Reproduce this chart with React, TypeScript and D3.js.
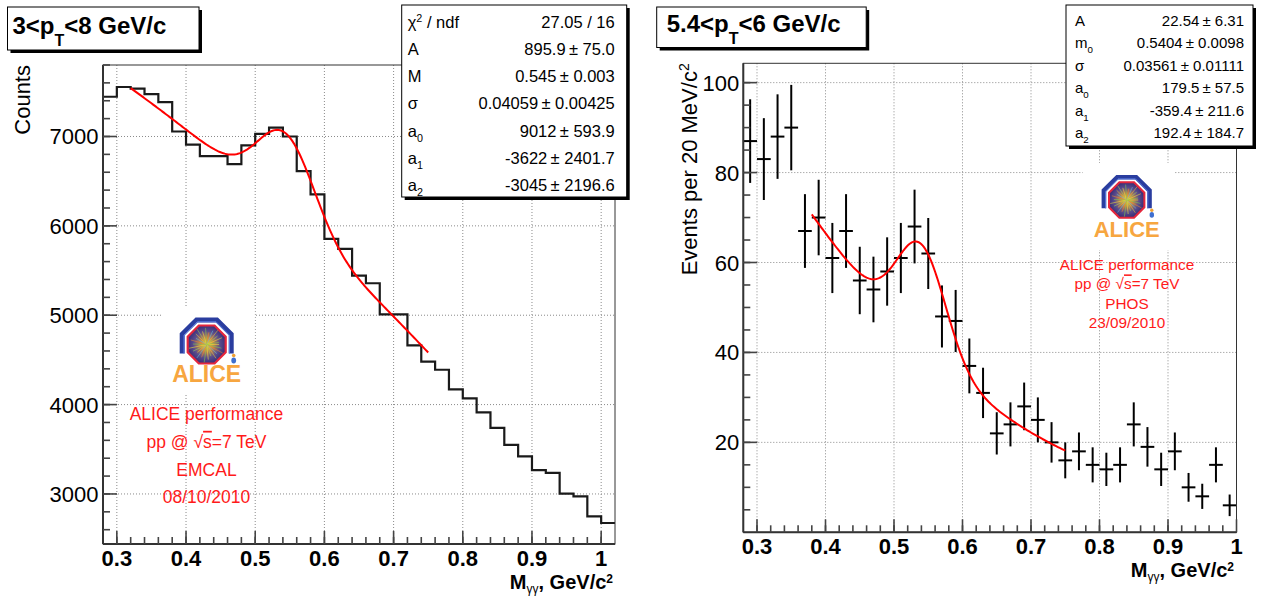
import React, { useEffect } from "react";
import * as d3 from "d3";

const FONT = "'Liberation Sans', Arial, Helvetica, sans-serif";

// ---------------- Left panel (EMCAL) data ----------------
const emcalBinStart = 0.28;
const emcalBinWidth = 0.02;
const emcalCounts = [
  7445, 7554, 7535, 7475, 7385, 7056, 6910, 6780, 6780, 6690,
  6900, 7030, 7100, 7000, 6612, 6352, 5854, 5742, 5444, 5358,
  5010, 5010, 4663, 4480, 4390, 4170, 4070, 3914, 3740, 3550,
  3420, 3266, 3236, 3004, 2974, 2750, 2675,
];
// fit parameters: A, M, sigma, a0, a1, a2 (gaus + pol2)
const emcalFitParams = [895.9, 0.545, 0.04059, 9012, -3622, -3045];
const emcalFitRange = [0.32, 0.75];
const emcalXTicks = [0.3, 0.4, 0.5, 0.6, 0.7, 0.8, 0.9, 1.0];
const emcalXTickLabels = ["0.3", "0.4", "0.5", "0.6", "0.7", "0.8", "0.9", "1"];
const emcalYTicks = [3000, 4000, 5000, 6000, 7000];
const emcalStatLabels = ["chi", "A", "M", "σ", "a0", "a1", "a2"];
const emcalStatValues = [
  "27.05 / 16",
  "895.9\u2009± 75.0",
  "0.545\u2009± 0.003",
  "0.04059\u2009± 0.00425",
  "9012\u2009± 593.9",
  "-3622\u2009± 2401.7",
  "-3045\u2009± 2196.6",
];
const emcalNotes = ["ALICE performance", "SQRT", "EMCAL", "08/10/2010"];

// ---------------- Right panel (PHOS) data ----------------
const phosBinStart = 0.28;
const phosBinWidth = 0.02;
const phosCounts = [
  87, 83, 88, 90, 67, 70, 61, 67, 56, 54,
  58, 61, 68, 62, 48, 47, 37, 31, 22, 24,
  28, 25, 20, 16, 18, 15, 14, 15, 24, 19,
  14, 18, 10, 8, 15, 6,
];
const phosErrors = [
  9.3, 9.1, 9.4, 9.5, 8.2, 8.4, 7.8, 8.2, 7.5, 7.3,
  7.6, 7.8, 8.2, 7.9, 6.9, 6.9, 6.1, 5.6, 4.7, 4.9,
  5.3, 5.0, 4.5, 4.0, 4.2, 3.9, 3.7, 3.9, 4.9, 4.4,
  3.7, 4.2, 3.2, 2.8, 3.9, 2.4,
];
const phosFitParams = [22.54, 0.5404, 0.03561, 179.5, -359.4, 192.4];
const phosFitRange = [0.38, 0.75];
const phosXTicks = [0.3, 0.4, 0.5, 0.6, 0.7, 0.8, 0.9, 1.0];
const phosXTickLabels = ["0.3", "0.4", "0.5", "0.6", "0.7", "0.8", "0.9", "1"];
const phosYTicks = [20, 40, 60, 80, 100];
const phosStatLabels = ["A", "m0", "σ", "a0", "a1", "a2"];
const phosStatValues = [
  "22.54\u2009± 6.31",
  "0.5404\u2009± 0.0098",
  "0.03561\u2009± 0.01111",
  "179.5\u2009± 57.5",
  "-359.4\u2009± 211.6",
  "192.4\u2009± 184.7",
];
const phosNotes = ["ALICE performance", "SQRT", "PHOS", "23/09/2010"];

// ---------------- helpers ----------------
function gausPol2(p: number[], x: number) {
  const [A, M, s, a0, a1, a2] = p;
  return A * Math.exp(-0.5 * ((x - M) / s) ** 2) + a0 + a1 * x + a2 * x * x;
}

function StatLabel({ label, size }: { label: string; size: number }) {
  if (label === "chi")
    return (
      <>
        <tspan>χ</tspan>
        <tspan dy={-6} fontSize={size * 0.65}>2</tspan>
        <tspan dy={6}> / ndf</tspan>
      </>
    );
  if (label.length === 2 && /[0-9]/.test(label[1]))
    return (
      <>
        <tspan>{label[0]}</tspan>
        <tspan dy={5} fontSize={size * 0.65}>{label[1]}</tspan>
      </>
    );
  return <tspan>{label}</tspan>;
}

function StatsBox({ x, y, w, h, labels, values, base, pitch, size, labelPad, valuePad }: any) {
  return (
    <g>
      <rect x={x + 3} y={y + 3} width={w} height={h} fill="#000" />
      <rect x={x} y={y} width={w} height={h} fill="#fff" stroke="#000" strokeWidth={1} />
      {labels.map((l: string, i: number) => (
        <text key={"l" + i} x={x + labelPad} y={y + base + i * pitch} fontSize={size} fill="#000">
          <StatLabel label={l} size={size} />
        </text>
      ))}
      {values.map((v: string, i: number) => (
        <text key={"v" + i} x={x + w - valuePad} y={y + base + i * pitch} fontSize={size} textAnchor="end" fill="#000">
          {v}
        </text>
      ))}
    </g>
  );
}

function TitleBox({ x, y, w, h, pre, post, tx, ty }: any) {
  return (
    <g>
      <rect x={x + 3} y={y + 3} width={w} height={h} fill="#000" />
      <rect x={x} y={y} width={w} height={h} fill="#fff" stroke="#000" strokeWidth={1} />
      <text x={tx} y={ty} fontSize={24} fontWeight="bold" fill="#000">
        <tspan>{pre}</tspan>
        <tspan dy={12} fontSize={16}>T</tspan>
        <tspan dy={-12}>{post}</tspan>
      </text>
    </g>
  );
}

function Logo({ cx, cy, s, id, fs }: any) {
  const t = 0.4142;
  const d = 24.5 * s;
  const r = 19 * s;
  const oct = (rr: number) =>
    [
      [-rr * t, -rr], [rr * t, -rr], [rr, -rr * t], [rr, rr * t],
      [rr * t, rr], [-rr * t, rr], [-rr, rr * t], [-rr, -rr * t],
    ].map((p) => p.join(",")).join(" ");
  const band = (dd: number) =>
    `M${-dd},${9 * s} L${-dd},${-dd * t} L${-dd * t},${-dd} L${dd * t},${-dd} L${dd},${-dd * t} L${dd},${9 * s}`;
  const rayColors = ["#f3e03a", "#7fd04a", "#f08a2a", "#5fc0e0", "#e8c23a", "#9ad35a"];
  const rays = d3.range(0, 360, 14).map((a, i) => {
    const rad = (a * Math.PI) / 180;
    const len = r * (0.65 + 0.3 * ((i * 7) % 5) / 4);
    return { x2: Math.cos(rad) * len, y2: Math.sin(rad) * len, c: rayColors[i % rayColors.length] };
  });
  return (
    <g transform={`translate(${cx},${cy})`}>
      <defs>
        <radialGradient id={id}>
          <stop offset="0%" stopColor="#f6c63a" />
          <stop offset="35%" stopColor="#c48a4a" />
          <stop offset="70%" stopColor="#5a4c8c" />
          <stop offset="100%" stopColor="#3a2f78" />
        </radialGradient>
      </defs>
      <rect x={-44} y={-37} width={92} height={87} fill="#fff" />
      <path d={band(d)} fill="none" stroke="#2a3d9f" strokeWidth={5 * s} />
      <path d={band(d - 1.8 * s)} fill="none" stroke="#5a7de0" strokeWidth={1 * s} />
      <polygon points={oct(r)} fill={`url(#${id})`} stroke="#e4263c" strokeWidth={2.2 * s} />
      {rays.map((ry, i) => (
        <line key={i} x1={0} y1={0} x2={ry.x2} y2={ry.y2} stroke={ry.c} strokeWidth={0.7} opacity={0.8} />
      ))}
      <circle cx={27 * s} cy={11 * s} r={1.8 * s} fill="#f0a030" />
      <ellipse cx={27 * s} cy={16 * s} rx={2.4 * s} ry={3 * s} fill="#3f6fd0" />
      <text x={0} y={37} textAnchor="middle" fontSize={fs} fontWeight="bold" fill="#f7a640">
        ALICE
      </text>
    </g>
  );
}

function Notes({ cx, y0, pitch, size, lines }: any) {
  return (
    <g fill="#ff1a1a" fontSize={size} textAnchor="middle">
      {lines.map((l: string, i: number) =>
        l === "SQRT" ? (
          <text key={i} x={cx} y={y0 + i * pitch}>
            <tspan>pp @ √</tspan>
            <tspan style={{ textDecoration: "overline" }}>s</tspan>
            <tspan>=7 TeV</tspan>
          </text>
        ) : (
          <text key={i} x={cx} y={y0 + i * pitch}>{l}</text>
        )
      )}
    </g>
  );
}

function XTitle({ x, y }: any) {
  return (
    <text x={x} y={y} fontSize={20} fontWeight="bold" textAnchor="end" fill="#000">
      <tspan>M</tspan>
      <tspan dy={4} fontSize={12} fontWeight="normal">γγ</tspan>
      <tspan dy={-4}>, GeV/c</tspan>
      <tspan dy={-6} fontSize={12}>2</tspan>
    </text>
  );
}

export default function App() {
  useEffect(() => {
    document.body.style.margin = "0";
  }, []);

  // ---- left scales ----
  const L = { x0: 103, x1: 615, y0: 65, y1: 544 };
  const xL = d3.scaleLinear().domain([0.28, 1.02]).range([L.x0, L.x1]);
  const yL = d3.scaleLinear().domain([2440, 7800]).range([L.y1, L.y0]);

  const histPts: [number, number][] = [];
  emcalCounts.forEach((c, i) => {
    const lo = emcalBinStart + i * emcalBinWidth;
    histPts.push([lo, c], [lo + emcalBinWidth, c]);
  });
  const histPath = d3.line<[number, number]>().x((d) => xL(d[0])).y((d) => yL(d[1]))(histPts) || "";

  const fitL = d3.range(emcalFitRange[0], emcalFitRange[1] + 1e-9, 0.002).map((x) => [x, gausPol2(emcalFitParams, x)] as [number, number]);
  const fitLPath = d3.line<[number, number]>().x((d) => xL(d[0])).y((d) => yL(d[1]))(fitL) || "";

  const xMinorL = d3.range(15, 51).map((k) => k * 0.02);
  const yMinorL = d3.range(13, 40).map((k) => k * 200);

  // ---- right scales ----
  const R = { x0: 743.3, x1: 1236.5, y0: 63.3, y1: 532.3 };
  const xR = d3.scaleLinear().domain([0.28, 1.0]).range([R.x0, R.x1]);
  const yR = d3.scaleLinear().domain([0, 104.3]).range([R.y1, R.y0]);

  const fitR = d3.range(phosFitRange[0], phosFitRange[1] + 1e-9, 0.002).map((x) => [x, gausPol2(phosFitParams, x)] as [number, number]);
  const fitRPath = d3.line<[number, number]>().x((d) => xR(d[0])).y((d) => yR(d[1]))(fitR) || "";

  const xMinorR = d3.range(15, 50).map((k) => k * 0.02);
  const yMinorR = d3.range(1, 21).map((k) => k * 5);

  const gridStyle = { stroke: "#8a8a8a", strokeWidth: 1, strokeDasharray: "1 2" };

  return (
    <svg width={1264} height={599} style={{ display: "block", position: "absolute", left: 0, top: 0, background: "#fff" }} fontFamily={FONT}>
      <rect x={0} y={0} width={1264} height={599} fill="#fff" />

      {/* ================= LEFT PANEL ================= */}
      <g>
        {emcalXTicks.map((t) => (
          <line key={"gx" + t} x1={xL(t)} x2={xL(t)} y1={L.y0} y2={L.y1} {...gridStyle} />
        ))}
        {emcalYTicks.map((t) => (
          <line key={"gy" + t} x1={L.x0} x2={L.x1} y1={yL(t)} y2={yL(t)} {...gridStyle} />
        ))}
        <Logo cx={206.7} cy={344.5} s={1} id="logoL" fs={23} />
        <Notes cx={206.5} y0={420} pitch={27.8} size={17.5} lines={emcalNotes} />

        <path d={histPath} fill="none" stroke="#1a1a1a" strokeWidth={2.2} />
        <path d={fitLPath} fill="none" stroke="#ff0000" strokeWidth={2} />

        {/* frame */}
        <rect x={L.x0} y={L.y0} width={L.x1 - L.x0} height={L.y1 - L.y0} fill="none" stroke="#333" strokeWidth={1} />
        <line x1={L.x0} x2={L.x1} y1={L.y1} y2={L.y1} stroke="#333" strokeWidth={2} />
        <line x1={L.x0} x2={L.x0} y1={L.y0} y2={L.y1} stroke="#333" strokeWidth={2} />
        {/* ticks */}
        {xMinorL.map((t) => (
          <line key={"xm" + t} x1={xL(t)} x2={xL(t)} y1={L.y1} y2={L.y1 - 7} stroke="#444" strokeWidth={1.6} />
        ))}
        {emcalXTicks.map((t) => (
          <line key={"xM" + t} x1={xL(t)} x2={xL(t)} y1={L.y1} y2={L.y1 - 13} stroke="#444" strokeWidth={1.6} />
        ))}
        {yMinorL.map((t) => (
          <line key={"ym" + t} x1={L.x0} x2={L.x0 + 7} y1={yL(t)} y2={yL(t)} stroke="#444" strokeWidth={1.6} />
        ))}
        {emcalYTicks.map((t) => (
          <line key={"yM" + t} x1={L.x0} x2={L.x0 + 14} y1={yL(t)} y2={yL(t)} stroke="#444" strokeWidth={1.6} />
        ))}
        {/* tick labels */}
        {emcalXTicks.map((t, i) => (
          <text key={"xl" + t} x={xL(t)} y={566} fontSize={22} fontWeight="bold" textAnchor="middle" fill="#000">
            {emcalXTickLabels[i]}
          </text>
        ))}
        {emcalYTicks.map((t) => (
          <text key={"yl" + t} x={98.5} y={yL(t) + 8} fontSize={22} textAnchor="end" fill="#000">
            {t}
          </text>
        ))}
        <text transform="translate(30,65) rotate(-90)" fontSize={22} textAnchor="end" fill="#000">
          Counts
        </text>
        <XTitle x={613} y={589} />

        <StatsBox x={401.7} y={5} w={225} h={192} labels={emcalStatLabels} values={emcalStatValues}
          base={22.5} pitch={27.3} size={16.5} labelPad={6} valuePad={12} />
        <TitleBox x={7.5} y={7} w={191.5} h={43} pre="3<p" post="<8 GeV/c" tx={12.5} ty={33.5} />
      </g>

      {/* ================= RIGHT PANEL ================= */}
      <g>
        {phosXTicks.map((t) => (
          <line key={"gx" + t} x1={xR(t)} x2={xR(t)} y1={R.y0} y2={R.y1} {...gridStyle} />
        ))}
        {phosYTicks.map((t) => (
          <line key={"gy" + t} x1={R.x0} x2={R.x1} y1={yR(t)} y2={yR(t)} {...gridStyle} />
        ))}
        <Logo cx={1126.7} cy={200} s={0.93} id="logoR" fs={22} />
        <Notes cx={1127} y0={270} pitch={19.4} size={15.3} lines={phosNotes} />

        {phosCounts.map((v, i) => {
          const c = phosBinStart + (i + 0.5) * phosBinWidth;
          const e = phosErrors[i];
          return (
            <g key={"p" + i} stroke="#000" strokeWidth={2}>
              <line x1={xR(c)} x2={xR(c)} y1={yR(v - e)} y2={yR(v + e)} />
              <line x1={xR(c - phosBinWidth / 2)} x2={xR(c + phosBinWidth / 2)} y1={yR(v)} y2={yR(v)} />
            </g>
          );
        })}
        <path d={fitRPath} fill="none" stroke="#ff0000" strokeWidth={2} />

        <rect x={R.x0} y={R.y0} width={R.x1 - R.x0} height={R.y1 - R.y0} fill="none" stroke="#333" strokeWidth={1} />
        <line x1={R.x0} x2={R.x1} y1={R.y1} y2={R.y1} stroke="#333" strokeWidth={2} />
        <line x1={R.x0} x2={R.x0} y1={R.y0} y2={R.y1} stroke="#333" strokeWidth={2} />
        {xMinorR.map((t) => (
          <line key={"xm" + t} x1={xR(t)} x2={xR(t)} y1={R.y1} y2={R.y1 - 7} stroke="#444" strokeWidth={1.6} />
        ))}
        {phosXTicks.map((t) => (
          <line key={"xM" + t} x1={xR(t)} x2={xR(t)} y1={R.y1} y2={R.y1 - 13} stroke="#444" strokeWidth={1.6} />
        ))}
        {yMinorR.map((t) => (
          <line key={"ym" + t} x1={R.x0} x2={R.x0 + 7} y1={yR(t)} y2={yR(t)} stroke="#444" strokeWidth={1.6} />
        ))}
        {phosYTicks.map((t) => (
          <line key={"yM" + t} x1={R.x0} x2={R.x0 + 14} y1={yR(t)} y2={yR(t)} stroke="#444" strokeWidth={1.6} />
        ))}
        {phosXTicks.map((t, i) => (
          <text key={"xl" + t} x={xR(t)} y={554} fontSize={22} fontWeight="bold" textAnchor="middle" fill="#000">
            {phosXTickLabels[i]}
          </text>
        ))}
        {phosYTicks.map((t) => (
          <text key={"yl" + t} x={739.3} y={yR(t) + 8} fontSize={22} textAnchor="end" fill="#000">
            {t}
          </text>
        ))}
        <text transform="translate(697,63.3) rotate(-90)" fontSize={22} textAnchor="end" fill="#000">
          <tspan>Events per 20 MeV/c</tspan>
          <tspan dy={-8} fontSize={14}>2</tspan>
        </text>
        <XTitle x={1234} y={577} />

        <StatsBox x={1066} y={5} w={187} h={141} labels={phosStatLabels} values={phosStatValues}
          base={21} pitch={22.4} size={15} labelPad={9} valuePad={9} />
        <TitleBox x={656.7} y={7} w={209.5} h={40.5} pre="5.4<p" post="<6 GeV/c" tx={666.7} ty={32} />
      </g>
    </svg>
  );
}
